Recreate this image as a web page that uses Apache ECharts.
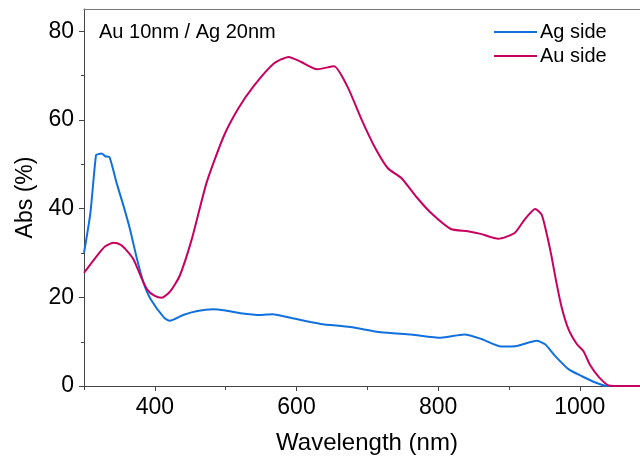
<!DOCTYPE html>
<html>
<head>
<meta charset="utf-8">
<script src="https://cdn.jsdelivr.net/npm/echarts@6/dist/echarts.min.js"></script>
<style>
html, body { margin: 0; padding: 0; background: #fff; }
#chart { width: 640px; height: 460px; }
</style>
</head>
<body>
<div id="chart"></div>
<script>
// Ag side (blue)
var agWavelength = [300, 309, 317, 321, 325, 330, 336, 346, 356, 365, 375, 384, 394, 413, 421, 440, 460, 482, 500, 521, 549, 566, 596, 634, 676, 719, 762, 804, 837, 861, 889, 913, 939, 951, 965, 984, 1003, 1022, 1038, 1060, 1085];
var agAbs = [30, 39, 52.1, 52.3, 52.4, 51.8, 51.6, 45.8, 40.5, 35.3, 28.5, 23.3, 19.6, 15.4, 14.7, 16, 16.9, 17.3, 17.0, 16.4, 16.0, 16.2, 15.2, 14.0, 13.3, 12.1, 11.6, 10.9, 11.6, 10.6, 8.9, 9.1, 10.2, 9.4, 6.8, 3.8, 2.2, 0.8, 0, 0, 0];

// Au side (magenta)
var auWavelength = [300, 318, 330, 342, 352, 361, 370, 380, 389, 400, 410, 422, 435, 452, 473, 497, 518, 539, 568, 589, 606, 629, 653, 672, 691, 710, 729, 748, 770, 790, 818, 842, 860, 885, 908, 922, 937, 946, 953, 960, 967, 974, 984, 996, 1005, 1015, 1027, 1041, 1055, 1085];
var auAbs = [25.5, 29.3, 31.5, 32.3, 31.8, 30.4, 28.5, 24.8, 21.8, 20.3, 19.9, 21.4, 24.8, 33, 45.8, 56.2, 62.6, 67.5, 72.7, 74.2, 73.1, 71.4, 72.1, 67.5, 60.4, 54, 49.1, 46.9, 42.5, 39, 35.4, 34.9, 34.3, 33.2, 34.5, 37.5, 39.9, 38.7, 34.5, 29.3, 23.3, 18, 12.8, 9.4, 7.9, 4.6, 2.0, 0.1, 0, 0];

var xLabelTicks = [400, 600, 800, 1000];
var xMinorTicks = [300, 500, 700, 900];
var yLabelTicks = [0, 20, 40, 60, 80];
var yMinorTicks = [10, 30, 50, 70];

function pairs(xs, ys) {
    var out = [];
    for (var i = 0; i < xs.length; i++) out.push([xs[i], ys[i]]);
    return out;
}

var font = 'Liberation Sans, Arial, sans-serif';
var axisColor = '#444';
var gridBox = { left: 84, right: 0, top: 9, bottom: 73 };

var myChart = echarts.init(document.getElementById('chart'));
var option = {
    animation: false,
    grid: [
        Object.assign({}, gridBox),
        Object.assign({}, gridBox)
    ],
    legend: {
        orient: 'vertical',
        left: 494,
        top: 22,
        padding: 0,
        icon: 'rect',
        itemWidth: 43,
        itemHeight: 2,
        itemGap: 4,
        textStyle: { fontFamily: font, fontSize: 20, color: '#000', lineHeight: 20, padding: [0, 0, 0, -2] },
        data: ['Ag side', 'Au side']
    },
    graphic: [{
        type: 'text',
        left: 99,
        top: 22,
        style: { text: 'Au 10nm / Ag 20nm', font: '20px ' + font, fill: '#000' }
    }],
    xAxis: [
        {
            type: 'value', gridIndex: 0, position: 'bottom',
            min: 300, max: 1085,
            name: 'Wavelength (nm)', nameLocation: 'middle', nameGap: 45,
            nameTextStyle: { fontFamily: font, fontSize: 24, color: '#000', padding: [0, 0, 0, 10] },
            axisLine: { show: true, lineStyle: { color: axisColor, width: 1 } },
            axisTick: { show: true, customValues: xLabelTicks, length: 5, lineStyle: { color: axisColor } },
            axisLabel: {
                customValues: xLabelTicks, fontFamily: font, fontSize: 23, color: '#000', margin: 10,
                formatter: function (v) { return String(v); }
            },
            splitLine: { show: false }
        },
        {
            type: 'value', gridIndex: 0, position: 'top',
            min: 300, max: 1085,
            axisLine: { show: true, lineStyle: { color: '#777', width: 1 } },
            axisTick: { show: false },
            axisLabel: { show: false },
            splitLine: { show: false }
        },
        {
            type: 'value', gridIndex: 1, position: 'bottom',
            min: 300, max: 1085,
            axisLine: { show: false },
            axisTick: { show: true, customValues: xMinorTicks, length: 3, lineStyle: { color: axisColor } },
            axisLabel: { show: false },
            splitLine: { show: false }
        }
    ],
    yAxis: [
        {
            type: 'value', gridIndex: 0, position: 'left',
            min: 0, max: 85,
            name: 'Abs (%)', nameLocation: 'middle', nameGap: 46,
            nameTextStyle: { fontFamily: font, fontSize: 23, color: '#000' },
            axisLine: { show: true, lineStyle: { color: axisColor, width: 1 } },
            axisTick: { show: true, customValues: yLabelTicks, length: 5, lineStyle: { color: axisColor } },
            axisLabel: { customValues: yLabelTicks, fontFamily: font, fontSize: 23, color: '#000', margin: 10 },
            splitLine: { show: false }
        },
        {
            type: 'value', gridIndex: 1, position: 'left',
            min: 0, max: 85,
            axisLine: { show: false },
            axisTick: { show: true, customValues: yMinorTicks, length: 3, lineStyle: { color: axisColor } },
            axisLabel: { show: false },
            splitLine: { show: false }
        }
    ],
    series: [
        {
            name: 'Ag side', type: 'line', xAxisIndex: 0, yAxisIndex: 0,
            symbol: 'none', smooth: 0.2,
            lineStyle: { color: '#1070dd', width: 2 },
            itemStyle: { color: '#1070dd' },
            data: pairs(agWavelength, agAbs)
        },
        {
            name: 'Au side', type: 'line', xAxisIndex: 0, yAxisIndex: 0,
            symbol: 'none', smooth: 0.2,
            lineStyle: { color: '#c8005e', width: 2 },
            itemStyle: { color: '#c8005e' },
            data: pairs(auWavelength, auAbs)
        }
    ]
};
myChart.setOption(option);
</script>
</body>
</html>
